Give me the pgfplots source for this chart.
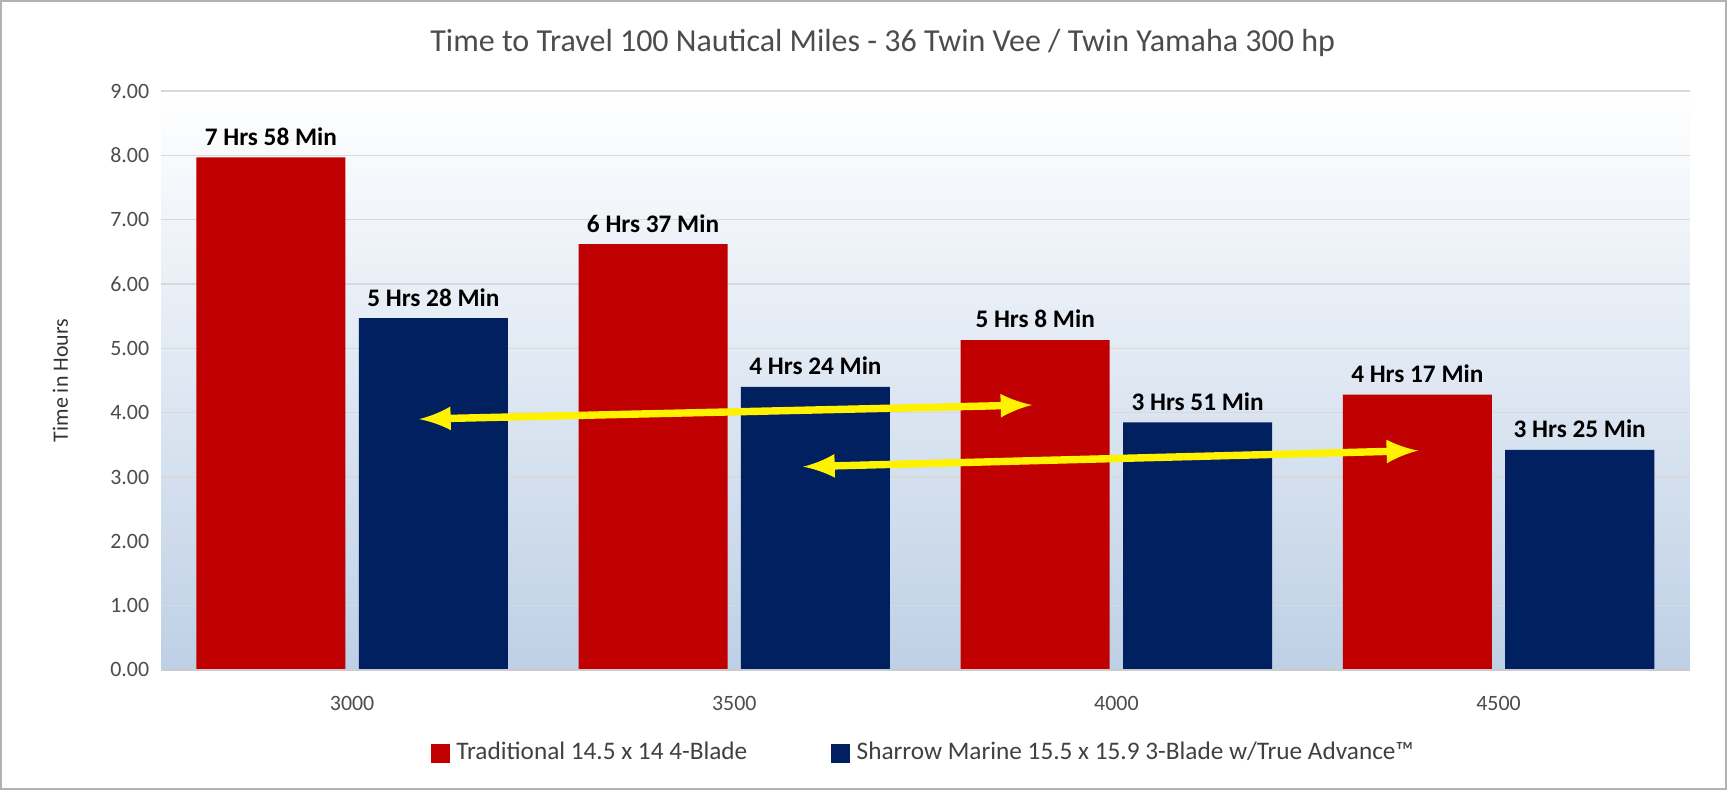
\documentclass[border=0pt]{standalone}
\usepackage{pgfplots}
\pgfplotsset{compat=1.18}
\usepackage{fontspec}
\setmainfont{Carlito}
\definecolor{tred}{RGB}{192,0,0}
\definecolor{tblue}{RGB}{0,32,96}
\definecolor{bgblue}{RGB}{190,208,230}
\begin{document}
\begin{tikzpicture}
\draw[gray!60, line width=0.6pt] (0,0) rectangle (18cm,8.22cm);
\node[font=\fontsize{9.5}{11}\selectfont, text=black!70] at (9.2cm,7.78cm) {Time to Travel 100 Nautical Miles - 36 Twin Vee / Twin Yamaha 300 hp};
\begin{axis}[at={(1.67cm,1.24cm)}, anchor=south west, scale only axis,
  width=15.95cm, height=6.04cm,
  xmin=-0.5, xmax=3.5, ymin=0, ymax=9, ytick={0,1,...,9},
  xtick={0,1,2,3}, xticklabels={3000,3500,4000,4500},
  axis line style={draw=none}, tick style={draw=none},
  ymajorgrids, grid style={gray!30},
  axis background/.style={top color=white, bottom color=bgblue},
  yticklabel style={/pgf/number format/.cd, fixed, fixed zerofill, precision=2},
  /pgf/number format/assume math mode=true,
  ticklabel style={font=\fontsize{6.5}{8}\selectfont, text=black!70},
  ylabel={Time in Hours}, ylabel style={font=\fontsize{6.5}{8}\selectfont, text=black!80, xshift=0pt, yshift=0.2cm},
  ybar=0.14cm, bar width=0.39*15.95cm/4,
  nodes near coords, point meta=explicit symbolic,
  every node near coord/.append style={font=\bfseries\fontsize{7.5}{9}\selectfont, text=black},
  legend style={at={(0.5,-0.1)}, anchor=north, draw=none, fill=none, legend columns=2,
    font=\fontsize{7.5}{9}\selectfont, /tikz/every even column/.append style={column sep=0.8cm}, text=black!75},
  legend image code/.code={\fill[#1] (0,-0.1cm) rectangle (0.2cm,0.1cm);},
  clip=false]
\addplot[fill=tred, draw=none] coordinates {(0,7.97)[7 Hrs 58 Min] (1,6.62)[6 Hrs 37 Min] (2,5.13)[5 Hrs 8 Min] (3,4.28)[4 Hrs 17 Min]};
\addplot[fill=tblue, draw=none] coordinates {(0,5.47)[5 Hrs 28 Min] (1,4.40)[4 Hrs 24 Min] (2,3.85)[3 Hrs 51 Min] (3,3.42)[3 Hrs 25 Min]};
\legend{Traditional 14.5 x 14 4-Blade, Sharrow Marine 15.5 x 15.9 3-Blade w/True Advance™}
\draw[gray!40] (axis cs:-0.5,0) -- (axis cs:3.5,0);
\end{axis}
\begin{axis}[at={(1.67cm,1.24cm)}, anchor=south west, scale only axis,
  width=15.95cm, height=6.04cm, xmin=-0.5, xmax=3.5, ymin=0, ymax=9, hide axis]
\addplot[yellow, line width=2.2pt, <->, >=latex] coordinates {(0.175,3.9) (1.78,4.12)};
\addplot[yellow, line width=2.2pt, <->, >=latex] coordinates {(1.18,3.16) (2.79,3.41)};
\end{axis}
\end{tikzpicture}
\end{document}
